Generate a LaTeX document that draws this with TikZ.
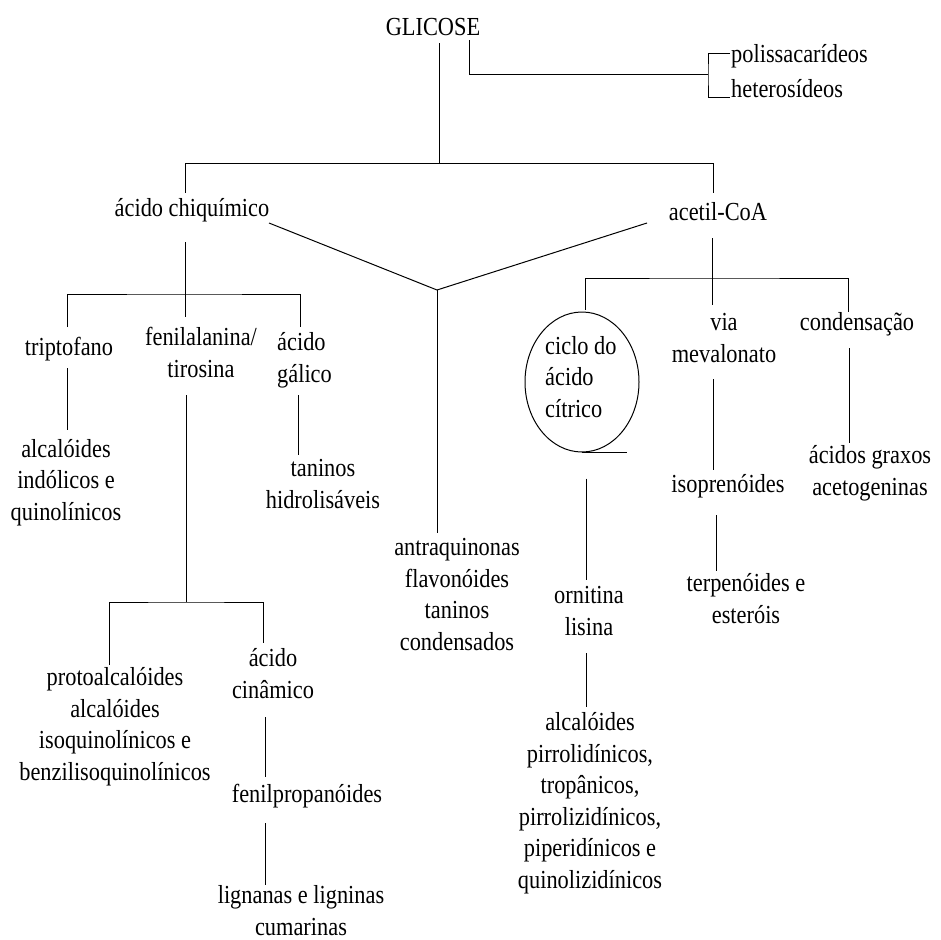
\documentclass[tikz,border=0pt]{standalone}
\usepackage{fontspec}
\setmainfont{Liberation Serif}[FakeStretch=0.86]
\usetikzlibrary{shapes.geometric}
\newcommand{\lbl}{\fontsize{26}{31.5}\selectfont}

\begin{document}
\begin{tikzpicture}[
	x=1pt,y=-1pt,
	every node/.style={font=\lbl,inner sep=0pt,align=center,anchor=base},
	line/.style={line width=1pt}
]
\useasboundingbox (0,0) rectangle (940,940);
% texts (anchor base = last line)
\node (glic) at (433,35) {GLICOSE};
\node[anchor=base west] (polis) at (731,62) {polissacarídeos};
\node[anchor=base west] (hetero) at (731,97) {heterosídeos};
\node (chiq) at (192,216) {ácido chiquímico};
\node (acetil) at (718,220) {acetil-CoA};
\node (tript) at (69,355) {triptofano};
\node (fenil) at (201,377) {fenilalanina/\\tirosina};
\node[anchor=base west,align=left] (galico) at (277,382) {ácido\\gálico};
\node (alcind) at (66,520) {alcalóides\\indólicos e\\quinolínicos};
\node (tanhid) at (323,508) {taninos\\hidrolisáveis};
\node (antra) at (457,650) {antraquinonas\\flavonóides\\taninos\\condensados};
\node (proto) at (115,780) {protoalcalóides\\alcalóides\\isoquinolínicos e\\benzilisoquinolínicos};
\node (cinam) at (273,698) {ácido\\cinâmico};
\node (fenilp) at (307,802) {fenilpropanóides};
\node (lign) at (301,935) {lignanas e ligninas\\cumarinas};
\node[draw,line,ellipse,anchor=center,minimum width=114,minimum height=140] (ciclo) at (582,382) {};
\node[anchor=base west,align=left] (ciclotxt) at (545,417) {ciclo do\\ácido\\cítrico};
\node (via) at (724,362) {via\\mevalonato};
\node (cond) at (857,330) {condensação};
\node (isopr) at (728,492) {isoprenóides};
\node (acgrax) at (870,495) {ácidos graxos\\acetogeninas};
\node (terp) at (746,623) {terpenóides e\\esteróis};
\node (ornit) at (589,635) {ornitina\\lisina};
\node (alcpir) at (590,888) {alcalóides\\pirrolidínicos,\\tropânicos,\\pirrolizidínicos,\\piperidínicos e\\quinolizidínicos};
% junctions
\coordinate (jg) at (439,163);
\coordinate (jl) at (185,163);
\coordinate (jr) at (713,163);
\coordinate (jh) at (708,74);
\coordinate (jy) at (437,290);
\coordinate (jc) at (185,294);
\coordinate (jf) at (186,602);
\coordinate (ja) at (712,278);
% connectors
\draw[line] ([xshift=6pt,yshift=-8pt]glic.base) -- (jg);
\draw[line] (jl) -- (jr);
\draw[line] (jl) -- ([xshift=-7pt,yshift=23pt]chiq.base);
\draw[line] (jr) -- ([xshift=-5pt,yshift=27pt]acetil.base);
\draw[line] ([xshift=36pt,yshift=-5pt]glic.base) |- (jh);
\draw[line] ([xshift=-1pt,yshift=9pt]polis.base west) -| (jh) |- ([xshift=-1pt]hetero.base west);
\draw[line] ([xshift=77pt,yshift=-7pt]chiq.base) -- (jy) -- ([xshift=-71pt,yshift=-3pt]acetil.base);
\draw[line] (jy) -- ([xshift=-20pt,yshift=117pt]antra.base);
\draw[line] ([xshift=-7pt,yshift=-26pt]chiq.base) -- ([xshift=-16pt,yshift=60pt]fenil.base);
\draw[line] ([xshift=-2pt,yshift=28pt]tript.base) |- (jc) -| ([xshift=23pt,yshift=55pt]galico.base west);
\draw[line] ([xshift=-2pt,yshift=-13pt]tript.base) -- ([xshift=1pt,yshift=90pt]alcind.base);
\draw[line] ([xshift=-15pt,yshift=-18pt]fenil.base) -- (jf);
\draw[line] ([xshift=-6pt,yshift=115pt]proto.base) |- (jf) -| ([xshift=-10pt,yshift=55pt]cinam.base);
\draw[line] ([xshift=21pt,yshift=-13pt]galico.base west) -- ([xshift=-25pt,yshift=53pt]tanhid.base);
\draw[line] ([xshift=-8pt,yshift=-19pt]cinam.base) -- ([xshift=-42pt,yshift=25pt]fenilp.base);
\draw[line] ([xshift=-42pt,yshift=-21pt]fenilp.base) -- ([xshift=-36pt,yshift=50pt]lign.base);
\draw[line] ([xshift=-6pt,yshift=-18pt]acetil.base) -- ([xshift=-12pt,yshift=57pt]via.base);
\draw[line] ([xshift=3pt,yshift=2pt]ciclo.north) |- (ja) -| ([xshift=-9pt,yshift=18pt]cond.base);
\draw[line] (ciclo.south) -- ++(45,0);
\draw[line] ([xshift=4pt,yshift=-26pt]ciclo.south) -- ([xshift=-3pt,yshift=55pt]ornit.base);
\draw[line] ([xshift=-3pt,yshift=-18pt]ornit.base) -- ([xshift=-4pt,yshift=181pt]alcpir.base);
\draw[line] ([xshift=-11pt,yshift=-17pt]via.base) -- ([xshift=-15pt,yshift=22pt]isopr.base);
\draw[line] ([xshift=-12pt,yshift=-23pt]isopr.base) -- ([xshift=-30pt,yshift=52pt]terp.base);
\draw[line] ([xshift=-8pt,yshift=-18pt]cond.base) -- ([xshift=-21pt,yshift=52pt]acgrax.base);
\end{tikzpicture}
\end{document}
